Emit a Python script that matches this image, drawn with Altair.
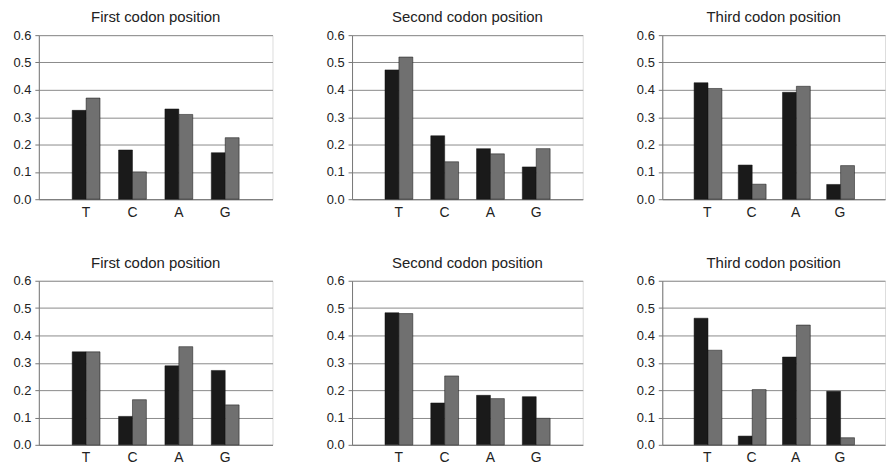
import altair as alt
import pandas as pd

bases = ["T", "C", "A", "G"]
titles = ["First codon position", "Second codon position", "Third codon position"]

# top row
top_first_a = [0.325, 0.18, 0.33, 0.17]
top_first_b = [0.37, 0.10, 0.31, 0.225]
top_second_a = [0.473, 0.232, 0.185, 0.118]
top_second_b = [0.52, 0.137, 0.166, 0.185]
top_third_a = [0.426, 0.125, 0.391, 0.054]
top_third_b = [0.405, 0.055, 0.413, 0.123]

# bottom row
bot_first_a = [0.34, 0.104, 0.289, 0.272]
bot_first_b = [0.34, 0.165, 0.359, 0.146]
bot_second_a = [0.483, 0.153, 0.181, 0.176]
bot_second_b = [0.48, 0.252, 0.169, 0.097]
bot_third_a = [0.463, 0.032, 0.321, 0.196]
bot_third_b = [0.346, 0.202, 0.438, 0.026]

series_names = ["s1", "s2"]
colors = ["#1a1a1a", "#707070"]

FONT = "Liberation Sans"


def panel(title, a, b, width):
    rows = []
    for i, base in enumerate(bases):
        rows.append({"base": base, "series": series_names[0], "value": a[i]})
        rows.append({"base": base, "series": series_names[1], "value": b[i]})
    df = pd.DataFrame(rows)
    return (
        alt.Chart(df)
        .mark_bar(stroke="#111111", strokeWidth=0.5)
        .encode(
            x=alt.X(
                "base:N",
                sort=bases,
                scale=alt.Scale(paddingInner=0.4, paddingOuter=0.72),
                axis=alt.Axis(
                    title=None,
                    labelAngle=0,
                    ticks=False,
                    domainColor="#777777",
                    labelFont=FONT,
                    labelFontSize=14,
                    labelColor="#222222",
                    labelPadding=6,
                    grid=False,
                ),
            ),
            xOffset=alt.XOffset("series:N", sort=series_names, scale=alt.Scale(paddingInner=0, paddingOuter=0)),
            y=alt.Y(
                "value:Q",
                scale=alt.Scale(domain=[0, 0.6], nice=False),
                axis=alt.Axis(
                    title=None,
                    values=[0, 0.1, 0.2, 0.3, 0.4, 0.5, 0.6],
                    format=".1f",
                    labelFont=FONT,
                    labelFontSize=13,
                    labelColor="#222222",
                    tickSize=4,
                    tickColor="#777777",
                    domainColor="#777777",
                    gridColor="#8a8a8a",
                    gridWidth=1,
                    labelPadding=4,
                    minExtent=30,
                ),
            ),
            color=alt.Color(
                "series:N",
                scale=alt.Scale(domain=series_names, range=colors),
                legend=None,
            ),
        )
        .properties(
            width=width,
            height=165,
            title=alt.TitleParams(
                title, font=FONT, fontSize=15, fontWeight="normal", color="#222222", offset=4
            ),
        )
    )


widths = [235, 232, 224]

top = alt.hconcat(
    panel(titles[0], top_first_a, top_first_b, widths[0]),
    panel(titles[1], top_second_a, top_second_b, widths[1]),
    panel(titles[2], top_third_a, top_third_b, widths[2]),
    spacing=48,
)
bottom = alt.hconcat(
    panel(titles[0], bot_first_a, bot_first_b, widths[0]),
    panel(titles[1], bot_second_a, bot_second_b, widths[1]),
    panel(titles[2], bot_third_a, bot_third_b, widths[2]),
    spacing=48,
)

chart = (
    alt.vconcat(top, bottom, spacing=35)
    .configure_view(stroke="#aaaaaa", strokeWidth=1)
    .configure(padding=0)
)

chart.save("out.html", embed_options={"renderer": "svg", "actions": False})
